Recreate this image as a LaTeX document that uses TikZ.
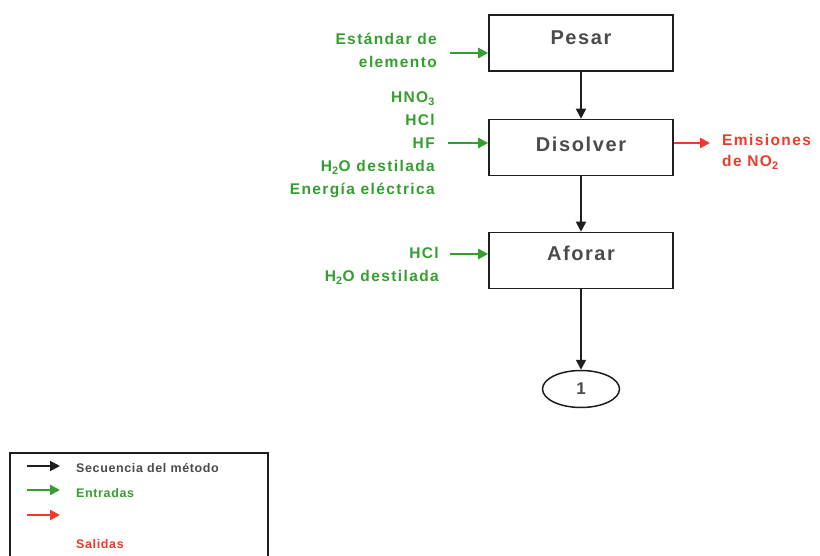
\documentclass[tikz,border=0pt]{standalone}
\usepackage{fontspec}
\setmainfont{Liberation Sans}
\newfontfamily\boxfont[LetterSpace=8]{Liberation Sans}
\newfontfamily\flowfont[LetterSpace=9]{Liberation Sans}
\newfontfamily\keyfont[LetterSpace=5]{Liberation Sans}
\usetikzlibrary{arrows.meta,shapes.geometric}
\definecolor{inpgreen}{RGB}{52,158,46}
\definecolor{outred}{RGB}{236,58,44}
\definecolor{boxtext}{RGB}{75,75,75}
\definecolor{linegray}{RGB}{30,30,30}

\begin{document}
\begin{tikzpicture}[x=1pt,y=-1pt,
  stepbox/.style={draw=linegray, line width=1.6pt, minimum width=184pt,
    minimum height=56pt, inner sep=0pt, text height=14pt,
    font=\boxfont\bfseries\fontsize{20}{22}\selectfont, text=boxtext},
  endmark/.style={draw=linegray, ellipse, line width=1.5pt, minimum width=77pt,
    minimum height=37pt, inner sep=0pt, font=\bfseries\fontsize{17}{19}\selectfont, text=boxtext},
  seqarrow/.style={draw=linegray, line width=1.8pt, -{Triangle[length=10pt,width=10pt]}},
  inarrow/.style={draw=inpgreen, line width=2.4pt, -{Triangle[length=10pt,width=10pt]}},
  outarrow/.style={draw=outred, line width=2.2pt, -{Triangle[length=10pt,width=10pt]}},
  inlabel/.style={text=inpgreen, align=right, anchor=east, inner sep=0pt,
    font=\flowfont\bfseries\fontsize{15.5}{23}\selectfont},
  outlabel/.style={text=outred, align=left, anchor=west, inner sep=0pt,
    font=\flowfont\bfseries\fontsize{15.5}{21}\selectfont},
  keytext/.style={anchor=west, inner sep=0pt, font=\keyfont\bfseries\fontsize{12.5}{14}\selectfont}
]
\useasboundingbox (0,0) rectangle (820,556);

% process steps
\node[stepbox, text depth=11pt] (pesar) at (581,43) {Pesar};
\node[stepbox, text depth=6pt] (disolver) at (581,147.5) {Disolver};
\node[stepbox, text depth=14pt] (aforar) at (581,260.5) {Aforar};
\node[endmark] (one) at (581,389) {1};

% method sequence
\draw[seqarrow] (pesar) -- (disolver);
\draw[seqarrow] (disolver) -- (aforar);
\draw[seqarrow] (aforar) -- (one);

% inputs to Pesar
\node[inlabel] (pesar-in) at (437,50) {Estándar de\\elemento};
\coordinate (pesar-tail) at (450,53);
\draw[inarrow] (pesar-tail) -- (pesar.west |- pesar-tail);

% inputs to Disolver
\node[inlabel] (disolver-in) at (435,145) {HNO\textsubscript{3}\\HCl\\HF\\H\textsubscript{2}O destilada\\Energía eléctrica};
\coordinate (disolver-tail) at (448,143);
\draw[inarrow] (disolver-tail) -- (disolver.west |- disolver-tail);

% output of Disolver
\coordinate (disolver-out) at (710,143);
\draw[outarrow] (disolver.east |- disolver-out) -- (disolver-out);
\node[outlabel] (emisiones) at (722,152) {Emisiones\\de NO\textsubscript{2}};

% inputs to Aforar
\node[inlabel] (aforar-in) at (439,266) {HCl\\H\textsubscript{2}O destilada};
\coordinate (aforar-tail) at (450,254);
\draw[inarrow] (aforar-tail) -- (aforar.west |- aforar-tail);

% legend (its frame runs past the lower edge)
\draw[linegray, line width=1.5pt] (10,560) -- (10,453) -- (268,453) -- (268,560);
\coordinate (k1a) at (27,466); \coordinate (k1b) at (60,466);
\coordinate (k2a) at (27,490); \coordinate (k2b) at (60,490);
\coordinate (k3a) at (27,515); \coordinate (k3b) at (60,515);
\draw[seqarrow] (k1a) -- (k1b);
\draw[inarrow] (k2a) -- (k2b);
\draw[outarrow] (k3a) -- (k3b);
\node[keytext, text=boxtext] (k1t) at (76,468) {Secuencia del método};
\node[keytext, text=inpgreen] (k2t) at (76,493) {Entradas};
\node[keytext, text=outred] (k3t) at (76,544) {Salidas};
\end{tikzpicture}
\end{document}
